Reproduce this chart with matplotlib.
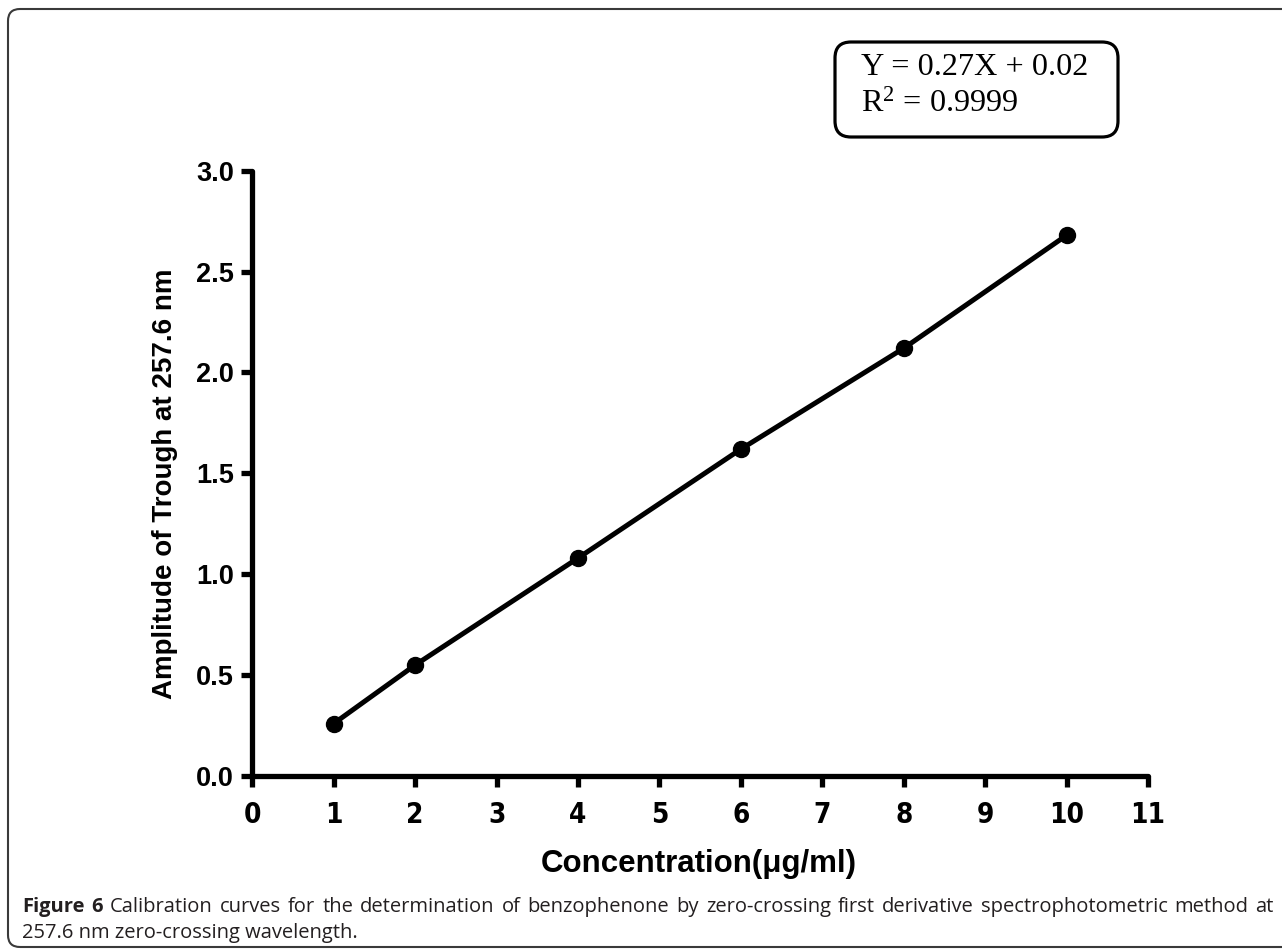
import matplotlib
matplotlib.use("Agg")
import matplotlib.pyplot as plt
from matplotlib.patches import FancyBboxPatch
from matplotlib.transforms import IdentityTransform
from matplotlib import font_manager

# ---- data ----
concentration = [1, 2, 4, 6, 8, 10]
amplitude = [0.26, 0.55, 1.08, 1.62, 2.12, 2.68]
x_ticks = list(range(0, 12))
y_ticks = [0.0, 0.5, 1.0, 1.5, 2.0, 2.5, 3.0]
x_label = "Concentration(\u03bcg/ml)"
y_label = "Amplitude of Trough at 257.6 nm"
eq_line1 = "Y = 0.27X + 0.02"
eq_line2 = r"R$^{2}$ = 0.9999"
caption_bold = "Figure 6"
caption_rest = ("Calibration curves for the determination of benzophenone by zero-crossing "
                "first derivative spectrophotometric method at 257.6 nm zero-crossing wavelength.")

plt.rcParams['mathtext.fontset'] = 'custom'
plt.rcParams['mathtext.rm'] = 'Liberation Serif'
plt.rcParams['mathtext.it'] = 'Liberation Serif'
plt.rcParams['mathtext.bf'] = 'Liberation Serif'

avail = {(f.name, f.stretch) for f in font_manager.fontManager.ttflist}
names = {f.name for f in font_manager.fontManager.ttflist}
if 'Liberation Sans Narrow' in names:
    xt_font = dict(fontfamily='Liberation Sans Narrow', fontweight='bold', fontsize=21)
elif any(n == 'DejaVu Sans' and s == 'condensed' for n, s in avail):
    xt_font = dict(fontfamily='DejaVu Sans', fontstretch='condensed', fontweight='bold', fontsize=20)
else:
    xt_font = dict(fontfamily='Liberation Sans', fontweight='bold', fontsize=19)

W, H = 1282, 949
fig = plt.figure(figsize=(W / 100, H / 100), dpi=100)
fig.patch.set_facecolor('white')

x0, x1 = 252.3, 1148
y0, y1 = 776, 170.7
ax = fig.add_axes([x0 / W, 1 - y0 / H, (x1 - x0) / W, (y0 - y1) / H])
ax.set_facecolor('none')

ax.plot(concentration, amplitude, color='black', lw=3.6, marker='o', ms=11.5,
        solid_capstyle='round', zorder=3, clip_on=False)

ax.set_xlim(0, 11)
ax.set_ylim(0, 3.0)
ax.set_xticks(x_ticks)
ax.set_yticks(y_ticks)
ax.set_xticklabels([str(v) for v in x_ticks], **xt_font)
ax.set_yticklabels(["%.1f" % v for v in y_ticks], fontfamily='Liberation Sans', fontweight='bold', fontsize=19.5)
for s in ['top', 'right']:
    ax.spines[s].set_visible(False)
for s in ['left', 'bottom']:
    ax.spines[s].set_linewidth(3.8)
    ax.spines[s].set_capstyle('round')
ax.tick_params(axis='both', direction='out', length=8, width=3.8, color='black')
ax.tick_params(axis='x', pad=10)
ax.tick_params(axis='y', pad=5)

fig.text(699 / W, 1 - 872 / H, x_label, ha='center', va='baseline',
         fontfamily='Liberation Sans', fontweight='bold', fontsize=22.5)
fig.text(165 / W, 1 - 484 / H, y_label, ha='center', va='center', rotation=90,
         fontfamily='Liberation Sans', fontweight='bold', fontsize=20)

# equation box
ident = IdentityTransform()
box = FancyBboxPatch((835, H - 137), 1118 - 835, 137 - 42,
                     boxstyle="round,pad=0,rounding_size=16", transform=ident,
                     fc='white', ec='black', lw=2.3)
fig.patches.append(box)
fig.text(861 / W, 1 - 75 / H, eq_line1, ha='left', va='baseline',
         fontfamily='Liberation Serif', fontsize=23.2)
fig.text(861 / W, 1 - 112 / H, eq_line2, ha='left', va='baseline',
         fontfamily='Liberation Serif', fontsize=23.2)

# outer border
border = FancyBboxPatch((8, 2), 1300, H - 9 - 2, boxstyle="round,pad=0,rounding_size=12",
                        transform=ident, fc='none', ec='#3a3a3a', lw=1.5, zorder=0)
fig.patches.append(border)

# caption (justified first line)
cap_color = '#231f20'
cap_size = 14.5
cap_font = 'Open Sans'
renderer = fig.canvas.get_renderer()
words = [(w, 'bold') for w in caption_bold.split()] + [(w, 'normal') for w in caption_rest.split()]
line1_n = 16  # words on first line (up to "at")
left, right = 22, 1274
base1, base2 = 912, 938

def measure(word, weight, size):
    t = fig.text(0, 0, word, fontsize=size, fontfamily=cap_font, fontweight=weight)
    bb = t.get_window_extent(renderer)
    t.remove()
    return bb.width

l1 = words[:line1_n]
widths = [measure(w, wt, cap_size) for w, wt in l1]
while (right - left - sum(widths)) / (len(l1) - 1) < 5:
    cap_size -= 0.2
    widths = [measure(w, wt, cap_size) for w, wt in l1]
gap = (right - left - sum(widths)) / (len(l1) - 1)
x = left
for (w, wt), wd in zip(l1, widths):
    fig.text(x / W, 1 - base1 / H, w, fontsize=cap_size, fontfamily=cap_font,
             fontweight=wt, color=cap_color, ha='left', va='baseline')
    x += wd + gap
l2 = " ".join(w for w, _ in words[line1_n:])
fig.text(left / W, 1 - base2 / H, l2, fontsize=cap_size, fontfamily=cap_font,
         color=cap_color, ha='left', va='baseline')

fig.savefig("out.png", dpi=100, facecolor='white')
